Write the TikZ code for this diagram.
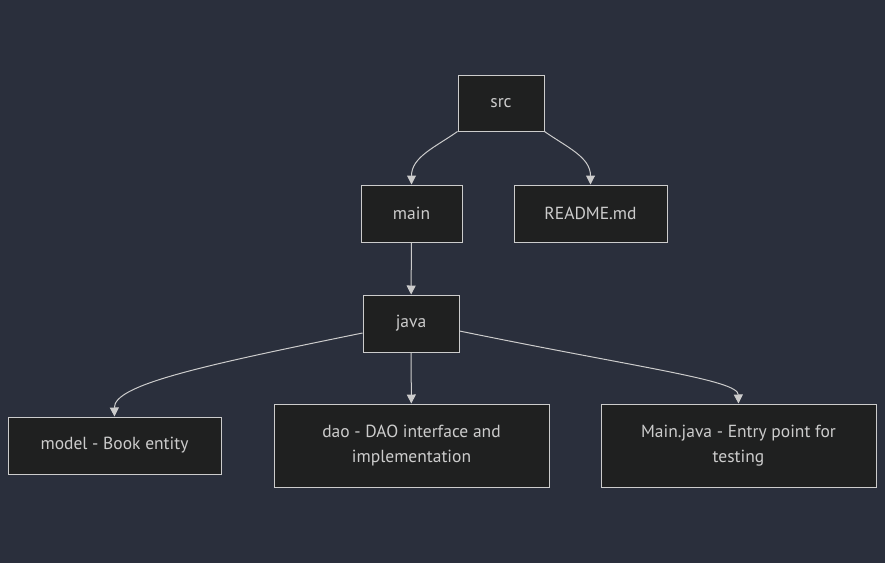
\documentclass[tikz,border=0pt]{standalone}
\usepackage{fontspec}
\setmainfont{PT Sans}
\usetikzlibrary{arrows.meta,positioning}
\definecolor{bgcol}{RGB}{42,47,60}
\definecolor{boxcol}{RGB}{31,32,32}
\definecolor{linecol}{RGB}{204,204,204}

\begin{document}
\begin{tikzpicture}[x=1pt,y=-1pt,
  box/.style={shape=rectangle,draw=linecol,fill=boxcol,text=linecol,line width=1pt,
    font=\fontsize{17.5}{25}\selectfont,align=center,inner sep=0pt},
  link/.style={draw=linecol,line width=1pt,-{Triangle[width=9pt,length=9pt]}}]
\fill[bgcol] (0,0) rectangle (885,563);
\useasboundingbox (0,0) rectangle (885,563);

\node[box,minimum width=86pt,minimum height=56pt] (src) at (501,103){src};
\node[box,minimum width=101pt,minimum height=57pt] (main) at (411.5,213.5){main};
\node[box,minimum width=153pt,minimum height=57pt] (readme) at (590.5,213.5){README.md};
\node[box,minimum width=96pt,minimum height=57pt] (java) at (411,323.5){java};

\node[box,minimum width=213pt,minimum height=57pt] (model) at (114.5,445.5){model - Book entity};
\node[box,minimum width=275pt,minimum height=83pt] (dao) at (411.5,445.5){dao - DAO interface and\\implementation};
\node[box,minimum width=275pt,minimum height=83pt] (mainjava) at (738.5,445.5){Main.java - Entry point for\\testing};

\draw[link] (src.south west) to[out=-145,in=90] (main.north);
\draw[link] (src.south east) to[out=-35,in=90] (readme.north);
\draw[link] (main) -- (java);
\coordinate (jw) at ([yshift=-9.5pt]java.west);
\draw[link] (jw) .. controls (200,366) and (114,385) .. (model.north);
\draw[link] (java) -- (dao);
\coordinate (je) at ([yshift=-7.5pt]java.east);
\draw[link] (je) .. controls (640,368) and (738,380) .. (mainjava.north);
\end{tikzpicture}
\end{document}
